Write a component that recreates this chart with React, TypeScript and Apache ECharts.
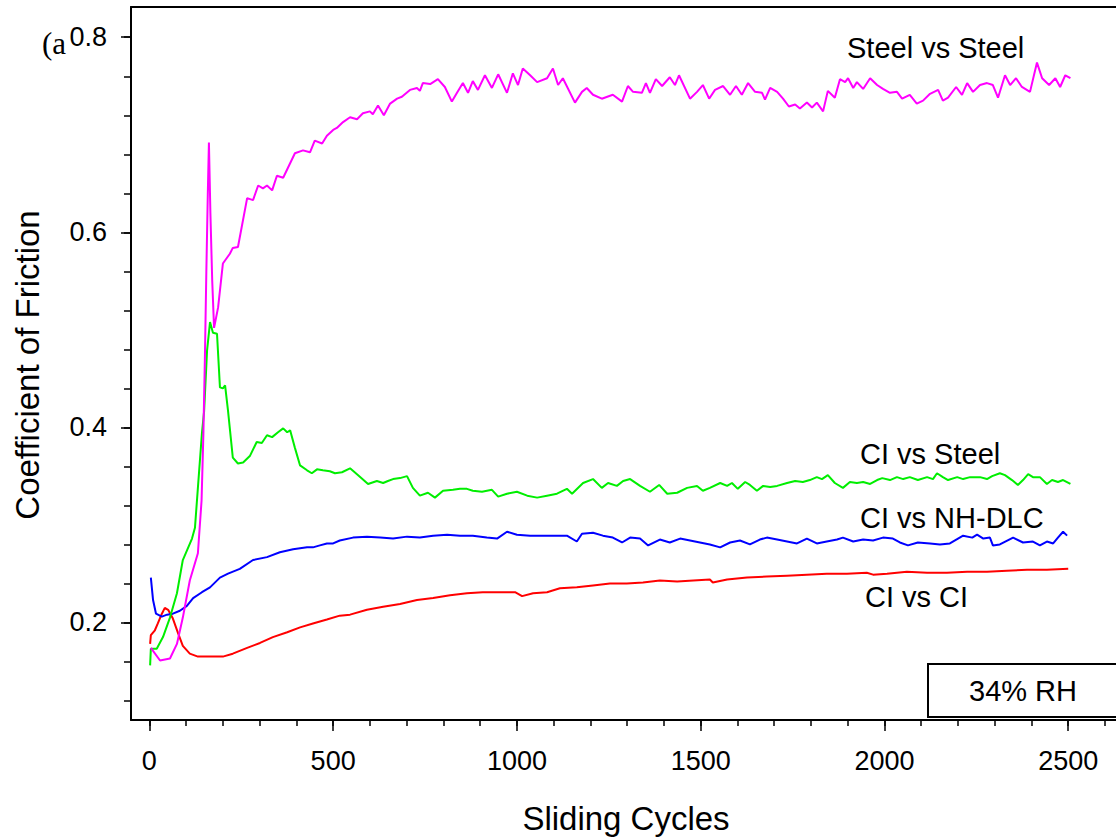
import React, { useEffect, useRef } from 'react';
import * as echarts from 'echarts';

// ---------- Data ----------
const steelSteelCycles = [4, 29, 56, 75, 91, 110, 132, 142, 147, 151, 155, 159, 162, 166, 171, 176, 187, 200, 219, 227, 241, 266, 282, 296, 309, 320, 334, 347, 364, 396, 418, 437, 450, 470, 483, 500, 510, 527, 546, 565, 581, 600, 608, 622, 638, 655, 674, 687, 709, 728, 736, 744, 764, 785, 804, 823, 837, 853, 867, 880, 894, 913, 932, 949, 973, 989, 1003, 1016, 1036, 1055, 1082, 1098, 1112, 1125, 1158, 1177, 1190, 1207, 1231, 1261, 1286, 1302, 1316, 1340, 1351, 1362, 1378, 1395, 1416, 1430, 1441, 1471, 1490, 1506, 1523, 1539, 1561, 1580, 1596, 1612, 1629, 1648, 1667, 1675, 1689, 1708, 1724, 1740, 1757, 1770, 1789, 1803, 1816, 1833, 1846, 1865, 1879, 1893, 1901, 1915, 1925, 1942, 1961, 1980, 1996, 2015, 2034, 2048, 2069, 2088, 2105, 2124, 2146, 2159, 2173, 2195, 2211, 2225, 2241, 2260, 2279, 2295, 2309, 2328, 2342, 2358, 2374, 2396, 2415, 2429, 2448, 2465, 2478, 2492, 2506];
const steelSteelCof = [0.174, 0.161, 0.163, 0.178, 0.205, 0.243, 0.271, 0.325, 0.394, 0.47, 0.56, 0.64, 0.692, 0.62, 0.55, 0.502, 0.523, 0.568, 0.578, 0.584, 0.585, 0.635, 0.633, 0.648, 0.645, 0.648, 0.643, 0.658, 0.656, 0.681, 0.684, 0.682, 0.694, 0.691, 0.699, 0.705, 0.707, 0.713, 0.718, 0.716, 0.722, 0.724, 0.721, 0.730, 0.720, 0.732, 0.737, 0.739, 0.746, 0.748, 0.745, 0.753, 0.752, 0.757, 0.749, 0.734, 0.743, 0.753, 0.743, 0.755, 0.746, 0.761, 0.748, 0.762, 0.743, 0.763, 0.751, 0.768, 0.761, 0.754, 0.758, 0.768, 0.751, 0.758, 0.733, 0.744, 0.748, 0.741, 0.737, 0.741, 0.734, 0.750, 0.744, 0.743, 0.753, 0.743, 0.757, 0.750, 0.759, 0.751, 0.761, 0.737, 0.744, 0.751, 0.737, 0.746, 0.750, 0.741, 0.750, 0.741, 0.753, 0.744, 0.743, 0.736, 0.748, 0.744, 0.737, 0.729, 0.731, 0.727, 0.733, 0.728, 0.733, 0.724, 0.745, 0.738, 0.757, 0.754, 0.758, 0.748, 0.754, 0.747, 0.758, 0.751, 0.747, 0.743, 0.744, 0.737, 0.741, 0.732, 0.735, 0.742, 0.746, 0.735, 0.738, 0.749, 0.741, 0.753, 0.744, 0.751, 0.753, 0.751, 0.738, 0.761, 0.751, 0.758, 0.749, 0.744, 0.774, 0.758, 0.751, 0.758, 0.749, 0.761, 0.758];

const ciSteelCycles = [2, 4, 20, 37, 56, 75, 91, 116, 124, 132, 143, 149, 157, 165, 173, 184, 192, 200, 206, 214, 227, 241, 255, 274, 292, 306, 320, 334, 350, 364, 375, 383, 396, 410, 429, 442, 456, 472, 491, 505, 524, 546, 568, 595, 619, 636, 649, 663, 682, 701, 717, 736, 758, 777, 799, 826, 845, 864, 880, 905, 932, 949, 973, 1000, 1028, 1055, 1082, 1109, 1136, 1150, 1180, 1207, 1231, 1248, 1272, 1289, 1308, 1335, 1362, 1387, 1409, 1436, 1463, 1490, 1506, 1525, 1553, 1572, 1585, 1601, 1621, 1634, 1653, 1670, 1689, 1708, 1735, 1757, 1778, 1797, 1816, 1830, 1846, 1865, 1887, 1906, 1925, 1942, 1961, 1980, 1994, 2015, 2034, 2051, 2069, 2091, 2116, 2132, 2143, 2159, 2173, 2198, 2214, 2233, 2260, 2279, 2293, 2314, 2328, 2347, 2363, 2377, 2391, 2404, 2423, 2442, 2456, 2472, 2486, 2506];
const ciSteelCof = [0.156, 0.173, 0.173, 0.185, 0.205, 0.230, 0.264, 0.286, 0.297, 0.338, 0.394, 0.417, 0.479, 0.508, 0.497, 0.496, 0.441, 0.440, 0.443, 0.417, 0.369, 0.363, 0.364, 0.371, 0.385, 0.384, 0.392, 0.390, 0.395, 0.399, 0.395, 0.397, 0.379, 0.361, 0.356, 0.353, 0.357, 0.356, 0.355, 0.353, 0.354, 0.358, 0.351, 0.342, 0.345, 0.343, 0.345, 0.347, 0.348, 0.350, 0.338, 0.330, 0.333, 0.328, 0.335, 0.336, 0.337, 0.337, 0.335, 0.334, 0.336, 0.329, 0.332, 0.334, 0.330, 0.328, 0.330, 0.332, 0.337, 0.332, 0.343, 0.347, 0.338, 0.343, 0.340, 0.345, 0.347, 0.340, 0.334, 0.341, 0.332, 0.333, 0.338, 0.340, 0.335, 0.338, 0.343, 0.340, 0.343, 0.337, 0.344, 0.341, 0.335, 0.340, 0.339, 0.340, 0.343, 0.345, 0.344, 0.346, 0.349, 0.347, 0.351, 0.343, 0.338, 0.344, 0.343, 0.344, 0.342, 0.346, 0.348, 0.346, 0.349, 0.347, 0.349, 0.346, 0.349, 0.347, 0.353, 0.349, 0.346, 0.349, 0.347, 0.349, 0.349, 0.347, 0.350, 0.353, 0.351, 0.346, 0.341, 0.346, 0.352, 0.349, 0.349, 0.342, 0.346, 0.344, 0.346, 0.342];

const ciDlcCycles = [4, 10, 18, 34, 48, 64, 83, 102, 119, 143, 165, 192, 214, 246, 282, 320, 355, 391, 429, 445, 464, 483, 500, 518, 554, 592, 628, 663, 701, 736, 772, 810, 845, 880, 918, 946, 973, 1000, 1036, 1071, 1109, 1136, 1163, 1177, 1207, 1234, 1261, 1286, 1308, 1335, 1357, 1389, 1416, 1444, 1471, 1498, 1525, 1553, 1580, 1607, 1634, 1661, 1680, 1708, 1735, 1762, 1789, 1816, 1843, 1871, 1887, 1915, 1942, 1969, 1996, 2023, 2042, 2064, 2091, 2124, 2151, 2178, 2214, 2239, 2252, 2269, 2287, 2295, 2314, 2350, 2377, 2404, 2423, 2442, 2459, 2472, 2486, 2497];
const ciDlcCof = [0.246, 0.223, 0.209, 0.206, 0.208, 0.209, 0.212, 0.217, 0.225, 0.231, 0.236, 0.246, 0.250, 0.255, 0.264, 0.267, 0.272, 0.275, 0.277, 0.277, 0.279, 0.281, 0.281, 0.284, 0.287, 0.288, 0.287, 0.286, 0.288, 0.287, 0.289, 0.290, 0.289, 0.289, 0.287, 0.286, 0.293, 0.290, 0.289, 0.289, 0.289, 0.289, 0.283, 0.291, 0.292, 0.289, 0.287, 0.282, 0.287, 0.286, 0.279, 0.285, 0.282, 0.286, 0.284, 0.282, 0.280, 0.277, 0.282, 0.284, 0.280, 0.285, 0.287, 0.285, 0.283, 0.281, 0.286, 0.281, 0.283, 0.285, 0.287, 0.283, 0.285, 0.284, 0.287, 0.286, 0.282, 0.279, 0.282, 0.281, 0.280, 0.281, 0.289, 0.287, 0.290, 0.286, 0.287, 0.279, 0.280, 0.287, 0.282, 0.283, 0.279, 0.283, 0.281, 0.287, 0.293, 0.289];

const ciCiCycles = [2, 4, 15, 23, 34, 42, 51, 64, 78, 91, 110, 132, 165, 200, 227, 266, 301, 336, 375, 410, 445, 483, 518, 546, 592, 636, 682, 728, 772, 818, 864, 907, 954, 995, 1014, 1044, 1082, 1117, 1163, 1207, 1253, 1299, 1343, 1389, 1436, 1480, 1525, 1533, 1572, 1626, 1680, 1735, 1789, 1843, 1898, 1952, 1969, 2007, 2061, 2116, 2170, 2225, 2279, 2333, 2388, 2442, 2500];
const ciCiCof = [0.178, 0.187, 0.192, 0.199, 0.209, 0.215, 0.213, 0.204, 0.189, 0.176, 0.168, 0.165, 0.165, 0.165, 0.168, 0.174, 0.179, 0.185, 0.190, 0.195, 0.199, 0.203, 0.207, 0.208, 0.213, 0.216, 0.219, 0.223, 0.225, 0.228, 0.230, 0.231, 0.231, 0.231, 0.227, 0.230, 0.231, 0.235, 0.236, 0.238, 0.240, 0.240, 0.241, 0.243, 0.242, 0.243, 0.244, 0.241, 0.244, 0.246, 0.247, 0.248, 0.249, 0.250, 0.250, 0.251, 0.249, 0.250, 0.252, 0.251, 0.251, 0.252, 0.252, 0.253, 0.254, 0.254, 0.255];

const seriesNames = ['Steel vs Steel', 'CI vs Steel', 'CI vs NH-DLC', 'CI vs CI'];
const seriesColors = ['#ff00ff', '#00ee00', '#0000ff', '#ff0000'];

const xMajorTicks = [0, 500, 1000, 1500, 2000, 2500];
const xMinorTicks = [0, 100, 200, 300, 400, 500, 600, 700, 800, 900, 1000, 1100, 1200, 1300, 1400, 1500, 1600, 1700, 1800, 1900, 2000, 2100, 2200, 2300, 2400, 2500, 2600];
const yMajorTicks = [0.2, 0.4, 0.6, 0.8];
const yMinorTicks = [0.12, 0.16, 0.2, 0.24, 0.28, 0.32, 0.36, 0.4, 0.44, 0.48, 0.52, 0.56, 0.6, 0.64, 0.68, 0.72, 0.76, 0.8];

const X_MIN = -50;
const X_MAX = 2630;
const Y_MIN = 0.1;
const Y_MAX = 0.831;

function pairs(xs: number[], ys: number[]) {
  return xs.map((x, i) => [x, ys[i]]);
}

const FONT = "'Liberation Sans', Arial, sans-serif";

export default function App() {
  const ref = useRef<HTMLDivElement>(null);

  useEffect(() => {
    if (!ref.current) return;
    const chart = echarts.init(ref.current, undefined, { renderer: 'svg' });
    const lineStyleAxis = { color: '#000', width: 2 };
    const tickStyle = { color: '#000', width: 1.5 };

    const baseX = { type: 'value', min: X_MIN, max: X_MAX, splitLine: { show: false } };
    const baseY = { type: 'value', min: Y_MIN, max: Y_MAX, splitLine: { show: false } };

    const allX = [steelSteelCycles, ciSteelCycles, ciDlcCycles, ciCiCycles];
    const allY = [steelSteelCof, ciSteelCof, ciDlcCof, ciCiCof];

    const textStyle = (text: string, size: number, extra: any = {}) => ({
      text,
      fontFamily: FONT,
      fontSize: size,
      fill: '#000',
      ...extra,
    });

    chart.setOption({
      animation: false,
      backgroundColor: '#fff',
      grid: { left: 131, top: 7, right: 0, bottom: 119, containLabel: false, outerBoundsMode: 'none' },
      xAxis: [
        {
          ...baseX,
          position: 'bottom',
          axisLine: { show: true, onZero: false, lineStyle: lineStyleAxis },
          axisTick: { show: true, customValues: xMinorTicks, length: 6, lineStyle: tickStyle },
          axisLabel: { show: false },
        },
        {
          ...baseX,
          position: 'bottom',
          axisLine: { show: false, onZero: false },
          axisTick: { show: true, customValues: xMajorTicks, length: 11, lineStyle: tickStyle },
          axisLabel: {
            show: true,
            customValues: xMajorTicks,
            fontSize: 27,
            fontFamily: FONT,
            color: '#000',
            margin: 27,
            formatter: (v: number) => String(v),
          },
        },
        {
          ...baseX,
          position: 'top',
          axisLine: { show: true, onZero: false, lineStyle: lineStyleAxis },
          axisTick: { show: false },
          axisLabel: { show: false },
        },
      ],
      yAxis: [
        {
          ...baseY,
          position: 'left',
          axisLine: { show: true, onZero: false, lineStyle: lineStyleAxis },
          axisTick: { show: true, customValues: yMinorTicks, length: 7, lineStyle: tickStyle },
          axisLabel: { show: false },
        },
        {
          ...baseY,
          position: 'left',
          axisLine: { show: false, onZero: false },
          axisTick: { show: true, customValues: yMajorTicks, length: 10, lineStyle: tickStyle },
          axisLabel: {
            show: true,
            customValues: yMajorTicks,
            fontSize: 27,
            fontFamily: FONT,
            color: '#000',
            margin: 24,
            formatter: (v: number) => v.toFixed(1),
          },
        },
      ],
      series: seriesNames.map((name, i) => ({
        name,
        type: 'line',
        xAxisIndex: 0,
        yAxisIndex: 0,
        data: pairs(allX[i], allY[i]),
        showSymbol: false,
        symbol: 'none',
        lineStyle: { color: seriesColors[i], width: 2 },
        z: 4 - i,
      })),
      graphic: [
        { type: 'text', x: 42, y: 43, style: { text: '(a', fontFamily: "'Liberation Serif', 'Times New Roman', serif", fontSize: 31, fill: '#000', align: 'left', verticalAlign: 'middle' } },
        { type: 'text', x: 27, y: 365, rotation: Math.PI / 2, style: textStyle('Coefficient of Friction', 33, { align: 'center', verticalAlign: 'middle' }) },
        { type: 'text', x: 626, y: 818, style: textStyle('Sliding Cycles', 33, { align: 'center', verticalAlign: 'middle' }) },
        { type: 'text', x: 847, y: 48, style: textStyle(seriesNames[0], 29, { align: 'left', verticalAlign: 'middle' }) },
        { type: 'text', x: 860, y: 454, style: textStyle(seriesNames[1], 29, { align: 'left', verticalAlign: 'middle' }) },
        { type: 'text', x: 860, y: 518, style: textStyle(seriesNames[2], 29, { align: 'left', verticalAlign: 'middle' }) },
        { type: 'text', x: 865, y: 597, style: textStyle(seriesNames[3], 29, { align: 'left', verticalAlign: 'middle' }) },
        { type: 'rect', shape: { x: 928, y: 664, width: 200, height: 53 }, style: { fill: '#fff', stroke: '#000', lineWidth: 2 } },
        { type: 'text', x: 1023, y: 691, style: textStyle('34% RH', 29, { align: 'center', verticalAlign: 'middle' }) },
      ],
    });
    return () => chart.dispose();
  }, []);

  return (
    <div
      ref={ref}
      style={{ position: 'fixed', left: 0, top: 0, width: 1116, height: 839, background: '#fff' }}
    />
  );
}
